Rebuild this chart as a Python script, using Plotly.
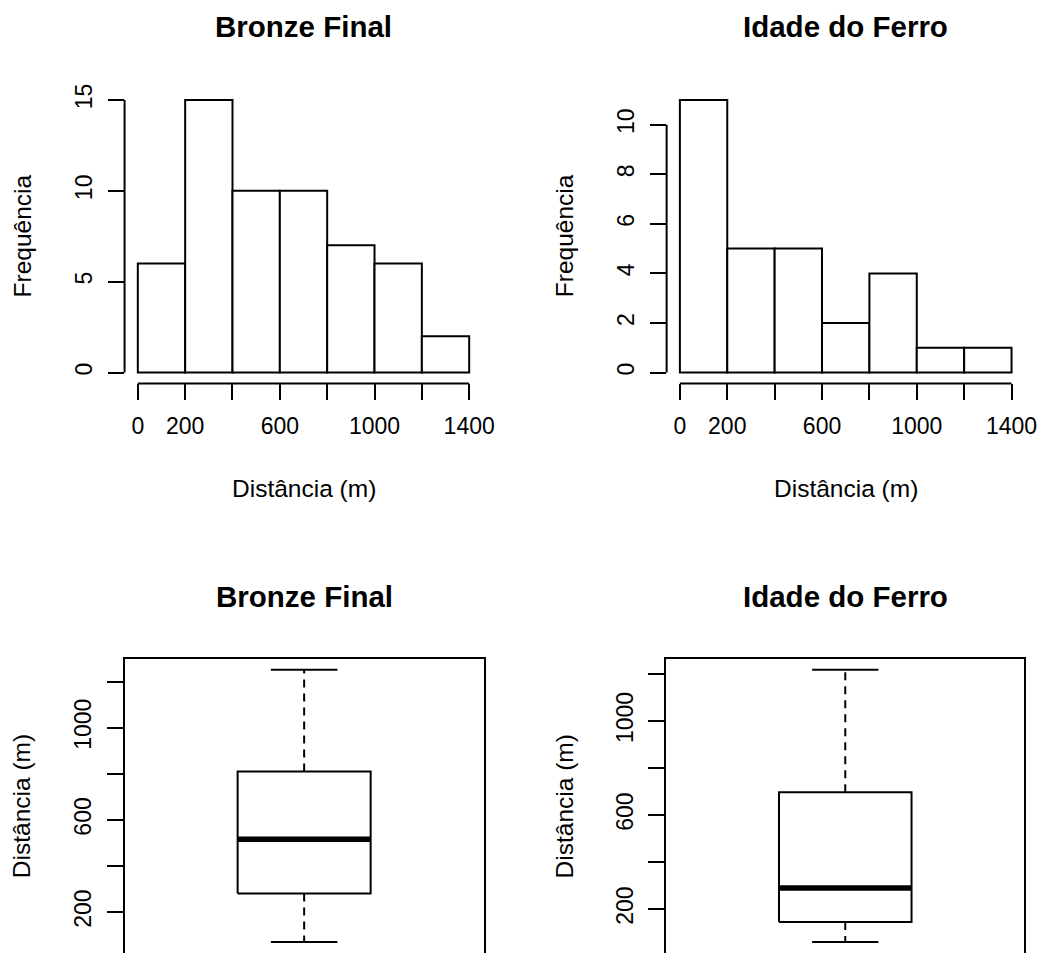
import plotly.graph_objects as go

# ---------------- data ----------------
breaks = [0, 200, 400, 600, 800, 1000, 1200, 1400]
bronze_counts = [6, 15, 10, 10, 7, 6, 2]
ferro_counts = [11, 5, 5, 2, 4, 1, 1]

# boxplot statistics: lower whisker, Q1, median, Q3, upper whisker
bronze_box = [70, 281, 516, 810, 1251]
ferro_box = [59, 145, 289, 697, 1218]

hist_xticks = [0, 200, 400, 600, 800, 1000, 1200, 1400]
hist_xticklabels = ["0", "200", "", "600", "", "1000", "", "1400"]
bronze_hist_yticks = [0, 5, 10, 15]
ferro_hist_yticks = [0, 2, 4, 6, 8, 10]
box_yticks = [200, 400, 600, 800, 1000, 1200]
box_yticklabels = ["200", "", "600", "", "1000", ""]

titles = ["Bronze Final", "Idade do Ferro"]
x_title = "Distância (m)"
hist_y_title = "Frequência"
box_y_title = "Distância (m)"

# ---------------- style ----------------
W, H = 1054, 953
FONT = "Liberation Sans, Arial, sans-serif"
TICK_SIZE = 23
LAB_SIZE = 24.5
TITLE_SIZE = 29.5
LW = 2

def px_x(p):
    return p / W

def px_y(p):
    return 1 - p / H

dom_x = [[px_x(126), px_x(488)], [px_x(674.3), px_x(1036.6)]]
dom_y_hist = [px_y(380.4), px_y(84.5)]
dom_y_box = [0.0, px_y(657.3)]

fig = go.Figure()
shapes = []
annotations = []

mids = [(a + b) / 2 for a, b in zip(breaks[:-1], breaks[1:])]
widths = [b - a for a, b in zip(breaks[:-1], breaks[1:])]

hist_sets = [(bronze_counts, bronze_hist_yticks), (ferro_counts, ferro_hist_yticks)]
box_sets = [bronze_box, ferro_box]

layout_axes = {}
for i, (counts, yticks) in enumerate(hist_sets):
    n = i + 1
    xa = "x" if n == 1 else f"x{n}"
    ya = "y" if n == 1 else f"y{n}"
    fig.add_trace(go.Bar(
        x=mids, y=counts, width=widths,
        marker=dict(color="white", line=dict(color="black", width=LW)),
        xaxis=xa, yaxis=ya, showlegend=False, hoverinfo="x+y"))
    xspan = breaks[-1] - breaks[0]
    ymax = max(counts)
    layout_axes["xaxis" if n == 1 else f"xaxis{n}"] = dict(
        domain=dom_x[i], anchor=ya,
        range=[breaks[0] - 0.04 * xspan, breaks[-1] + 0.04 * xspan],
        tickvals=hist_xticks, ticktext=hist_xticklabels,
        ticks="outside", ticklen=16, tickwidth=LW, tickcolor="black",
        showline=False, showgrid=False, zeroline=False,
        tickfont=dict(size=TICK_SIZE, color="black", family=FONT),
        ticklabelstandoff=6, fixedrange=True)
    layout_axes["yaxis" if n == 1 else f"yaxis{n}"] = dict(
        domain=dom_y_hist, anchor=xa,
        range=[-0.04 * ymax, 1.04 * ymax],
        tickvals=yticks, ticktext=[str(t) for t in yticks],
        ticks="outside", ticklen=16, tickwidth=LW, tickcolor="black",
        tickangle=-90,
        showline=False, showgrid=False, zeroline=False,
        tickfont=dict(size=TICK_SIZE, color="black", family=FONT),
        ticklabelstandoff=6, fixedrange=True)
    # R-style axis lines spanning only the tick range
    shapes.append(dict(type="line", xref=xa, yref=f"{ya} domain",
                       x0=min(hist_xticks), x1=max(hist_xticks), y0=0, y1=0,
                       line=dict(color="black", width=LW)))
    shapes.append(dict(type="line", xref=f"{xa} domain", yref=ya,
                       x0=0, x1=0, y0=min(yticks), y1=max(yticks),
                       line=dict(color="black", width=LW)))
    # titles
    annotations.append(dict(text=titles[i], xref=f"{xa} domain", yref="paper",
                            x=0.5, y=px_y(22), xanchor="center", yanchor="middle",
                            showarrow=False,
                            font=dict(size=TITLE_SIZE, color="black", family=FONT, weight="bold")))
    annotations.append(dict(text=x_title, xref=f"{xa} domain", yref="paper",
                            x=0.5, y=px_y(486.5), xanchor="center", yanchor="middle",
                            showarrow=False,
                            font=dict(size=LAB_SIZE, color="black", family=FONT)))
    annotations.append(dict(text=hist_y_title, xref="paper", yref=f"{ya} domain",
                            x=px_x([22.5, 570.5][i]), y=0.5, textangle=-90,
                            xanchor="center", yanchor="middle", showarrow=False,
                            font=dict(size=LAB_SIZE, color="black", family=FONT)))

for i, stats in enumerate(box_sets):
    n = i + 3
    xa = f"x{n}"
    ya = f"y{n}"
    lo, q1, med, q3, hi = stats
    c, hw, cw = 1.0, 0.2, 0.1
    # box
    fig.add_trace(go.Scatter(x=[c - hw, c + hw, c + hw, c - hw, c - hw],
                             y=[q1, q1, q3, q3, q1], mode="lines",
                             line=dict(color="black", width=LW),
                             xaxis=xa, yaxis=ya, showlegend=False, hoverinfo="y"))
    # median
    fig.add_trace(go.Scatter(x=[c - hw, c + hw], y=[med, med], mode="lines",
                             line=dict(color="black", width=5.5),
                             xaxis=xa, yaxis=ya, showlegend=False, hoverinfo="y"))
    # whiskers (dashed)
    for a, b in [(q3, hi), (q1, lo)]:
        fig.add_trace(go.Scatter(x=[c, c], y=[a, b], mode="lines",
                                 line=dict(color="black", width=LW, dash="8px,6px"),
                                 xaxis=xa, yaxis=ya, showlegend=False, hoverinfo="y"))
    # caps
    for v in [hi, lo]:
        fig.add_trace(go.Scatter(x=[c - cw, c + cw], y=[v, v], mode="lines",
                                 line=dict(color="black", width=LW),
                                 xaxis=xa, yaxis=ya, showlegend=False, hoverinfo="y"))
    span = hi - lo
    layout_axes[f"xaxis{n}"] = dict(
        domain=[px_x(126), px_x(489.3)] if i == 0 else [px_x(674), px_x(1036)],
        anchor=ya, range=[0.46, 1.54], side="top",
        showticklabels=False, ticks="", showgrid=False, zeroline=False,
        showline=True, linecolor="black", linewidth=LW, mirror=False, fixedrange=True)
    layout_axes[f"yaxis{n}"] = dict(
        domain=dom_y_box, anchor=xa,
        range=[lo - 0.04 * span, hi + 0.04 * span],
        tickvals=box_yticks, ticktext=box_yticklabels,
        ticks="outside", ticklen=16, tickwidth=LW, tickcolor="black",
        tickangle=-90,
        showline=True, linecolor="black", linewidth=LW, mirror=True,
        showgrid=False, zeroline=False,
        tickfont=dict(size=TICK_SIZE, color="black", family=FONT),
        ticklabelstandoff=6, fixedrange=True)
    annotations.append(dict(text=titles[i], xref=f"{xa} domain", yref="paper",
                            x=0.5, y=px_y(595), xanchor="center", yanchor="middle",
                            showarrow=False,
                            font=dict(size=TITLE_SIZE, color="black", family=FONT, weight="bold")))
    annotations.append(dict(text=box_y_title, xref="paper", yref=f"{ya} domain",
                            x=px_x([22.5, 571][i]), y=0.5, textangle=-90,
                            xanchor="center", yanchor="middle", showarrow=False,
                            font=dict(size=LAB_SIZE, color="black", family=FONT)))

fig.update_layout(
    width=W, height=H,
    margin=dict(l=0, r=0, t=0, b=0),
    paper_bgcolor="white", plot_bgcolor="white",
    font=dict(family=FONT, color="black"),
    shapes=shapes, annotations=annotations,
    showlegend=False,
    **layout_axes)

fig.write_html("out.html", config={"displayModeBar": False},
               post_script="document.body.style.margin='0';document.body.style.padding='0';")
